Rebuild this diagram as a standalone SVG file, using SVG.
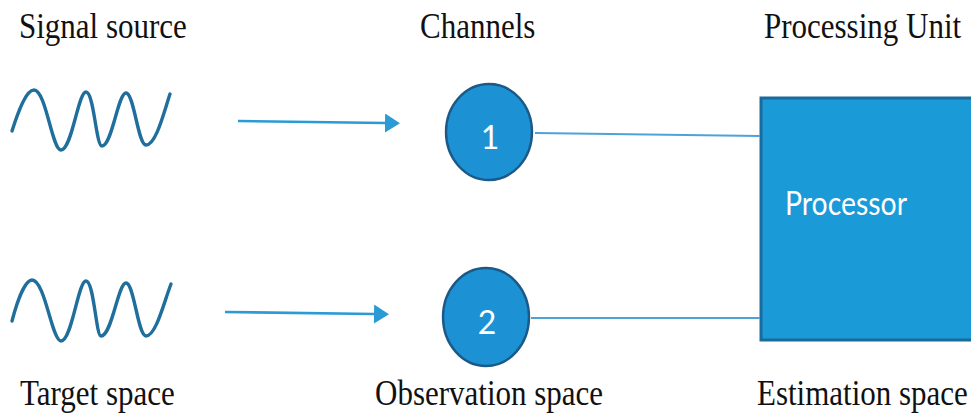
<svg xmlns="http://www.w3.org/2000/svg" width="971" height="414" viewBox="0 0 971 414">
  <style>
    .label { font-family: "Liberation Serif", "Times New Roman", serif; font-size: 31px; fill: #111; }
    .wave { fill: none; stroke: #1f6e9c; stroke-width: 3.4; stroke-linecap: round; stroke-linejoin: round; }
    .arrow { fill: none; stroke: #2b9bd6; stroke-width: 2.6; }
    .link { fill: none; stroke: #4ea3d6; stroke-width: 2.2; }
    .chan { fill: #1c91d3; stroke: #1b5a88; stroke-width: 2.4; }
    .num { font-family: Lato, "Open Sans", sans-serif; font-size: 32px; fill: #fff; text-anchor: middle; }
    .proc { fill: #1a9ad7; stroke: #1a6a9b; stroke-width: 3; }
    .proc-text { font-family: Lato, "Open Sans", sans-serif; font-size: 33px; fill: #fff; }
  </style>
  <defs>
    <marker id="head" markerUnits="userSpaceOnUse" markerWidth="16" markerHeight="20" refX="0" refY="9.5" orient="auto">
      <path d="M0,0 L15,9.5 L0,19 Z" fill="#2b9bd6"/>
    </marker>
  </defs>

  <rect width="971" height="414" fill="#fff"/>

  <!-- column headings (serif labels are drawn slightly taller than wide) -->
  <g id="headings">
    <text class="label" transform="translate(19,38) scale(1,1.16)">Signal source</text>
    <text class="label" transform="translate(420,38) scale(1,1.16)">Channels</text>
    <text class="label" transform="translate(764,38) scale(1,1.16)">Processing Unit</text>
  </g>

  <!-- space labels along the bottom -->
  <g id="spaces">
    <text class="label" transform="translate(20,405) scale(1,1.16)">Target space</text>
    <text class="label" transform="translate(375,405) scale(1,1.16)">Observation space</text>
    <text class="label" transform="translate(757,405) scale(1,1.16)">Estimation space</text>
  </g>

  <!-- signal sources -->
  <g id="source-1">
    <path class="wave" d="M12,131 C18,112 26,90 34,90 C46,90 52,150 61,150 C72,150 78,92 86,92 C94,92 96,146 102,146 C112,146 118,93 126,93 C134,93 138,145 146,145 C156,145 164,112 170,94"/>
  </g>
  <g id="source-2">
    <path class="wave" d="M12,321 C17,302 25,280 32,280 C45,280 52,341 61,341 C72,341 78,281 86,281 C94,281 96,336 101,336 C112,336 118,283 126,283 C134,283 138,336 146,336 C156,336 164,302 171,284"/>
  </g>

  <!-- channels -->
  <g id="channel-1">
    <ellipse class="chan" cx="489" cy="132" rx="43" ry="48"/>
    <text class="num" x="490" y="149">1</text>
  </g>
  <g id="channel-2">
    <ellipse class="chan" cx="486" cy="317" rx="43" ry="49"/>
    <text class="num" x="487" y="334">2</text>
  </g>

  <!-- processing unit -->
  <g id="processor">
    <rect class="proc" x="761" y="98" width="214" height="242"/>
    <text class="proc-text" x="785" y="215" textLength="122" lengthAdjust="spacingAndGlyphs">Processor</text>
  </g>

  <!-- connectors -->
  <g id="connectors">
    <path class="arrow" d="M238,121 L385,123" marker-end="url(#head)"/>
    <path class="arrow" d="M225,312 L374,314" marker-end="url(#head)"/>
    <path class="link" d="M535,133 L760,136"/>
    <path class="link" d="M531,318 L760,318"/>
  </g>
</svg>
